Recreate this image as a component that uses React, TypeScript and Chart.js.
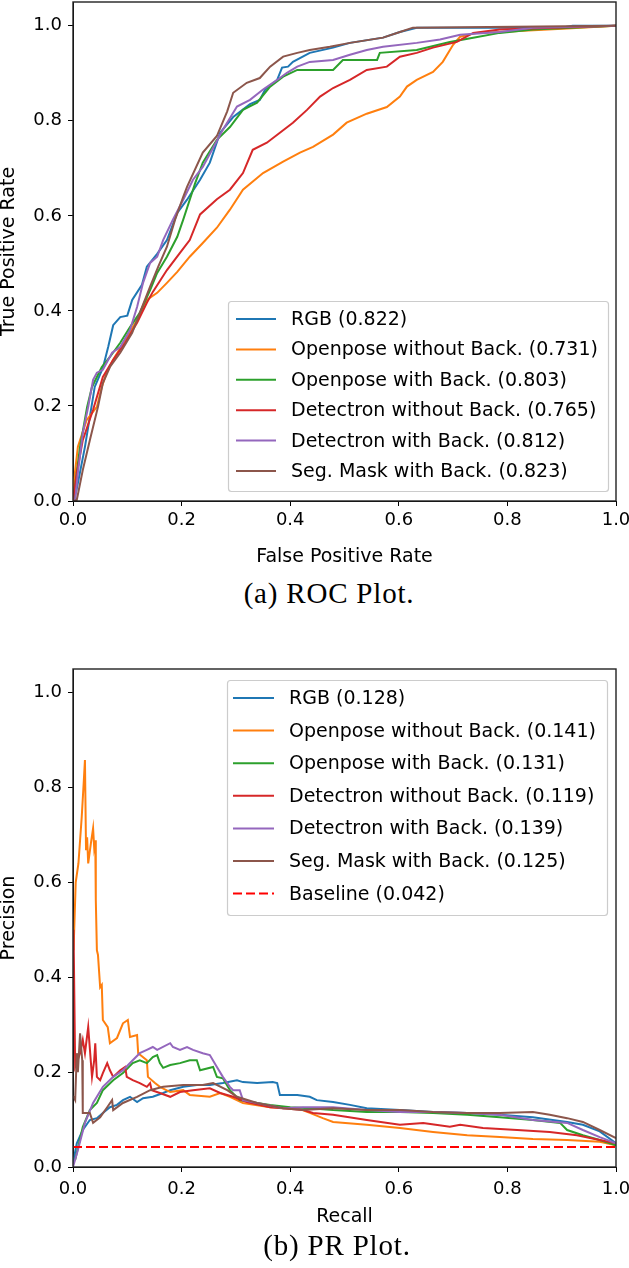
import React, { useEffect, useRef } from "react";
import { Chart, registerables } from "chart.js";

Chart.register(...registerables);

type Pt = [number, number];

// ---------------- data ----------------
const seriesColors = ["#1f77b4", "#ff7f0e", "#2ca02c", "#d62728", "#9467bd", "#8c564b"];
const baselineColor = "#ff0000";

const tickValues = [0, 0.2, 0.4, 0.6, 0.8, 1.0];
const tickLabels = ["0.0", "0.2", "0.4", "0.6", "0.8", "1.0"];

const rocLabels = [
  "RGB (0.822)",
  "Openpose without Back. (0.731)",
  "Openpose with Back. (0.803)",
  "Detectron without Back. (0.765)",
  "Detectron with Back. (0.812)",
  "Seg. Mask with Back. (0.823)",
];

const prLabels = [
  "RGB (0.128)",
  "Openpose without Back. (0.141)",
  "Openpose with Back. (0.131)",
  "Detectron without Back. (0.119)",
  "Detectron with Back. (0.139)",
  "Seg. Mask with Back. (0.125)",
];
const baselineLabel = "Baseline (0.042)";
const baselineValue = 0.042;
const baselineRecall = [0, 1];

// ROC: [false positive rate, true positive rate]
const rocRGB: Pt[] = [
  [0, 0], [0.006, 0.02], [0.022, 0.114], [0.04, 0.24], [0.055, 0.28], [0.065, 0.325], [0.074, 0.37],
  [0.087, 0.387], [0.1, 0.39], [0.109, 0.423], [0.127, 0.455], [0.136, 0.493], [0.155, 0.52],
  [0.173, 0.549], [0.192, 0.606], [0.21, 0.634], [0.234, 0.676], [0.252, 0.712], [0.271, 0.775],
  [0.295, 0.808], [0.326, 0.835], [0.344, 0.844], [0.354, 0.866], [0.376, 0.886], [0.385, 0.912],
  [0.396, 0.914], [0.405, 0.924], [0.436, 0.943], [0.479, 0.954], [0.51, 0.964], [0.571, 0.975],
  [0.602, 0.987], [0.633, 0.996], [0.9, 0.996], [0.92, 1.0], [1, 1],
];
const rocOpenposeNoBack: Pt[] = [
  [0, 0], [0.002, 0.044], [0.009, 0.114], [0.025, 0.17], [0.044, 0.198], [0.053, 0.24], [0.062, 0.27],
  [0.074, 0.297], [0.096, 0.339], [0.118, 0.381], [0.136, 0.423], [0.155, 0.438], [0.173, 0.459],
  [0.192, 0.482], [0.215, 0.514], [0.239, 0.543], [0.265, 0.575], [0.289, 0.613], [0.313, 0.655],
  [0.35, 0.69], [0.387, 0.714], [0.418, 0.733], [0.442, 0.745], [0.479, 0.771], [0.504, 0.796],
  [0.541, 0.815], [0.578, 0.829], [0.602, 0.851], [0.615, 0.872], [0.633, 0.886], [0.663, 0.903],
  [0.681, 0.924], [0.7, 0.96], [0.713, 0.977], [0.744, 0.985], [0.786, 0.987], [0.91, 0.994], [1, 1],
];
const rocOpenposeBack: Pt[] = [
  [0, 0], [0.002, 0.017], [0.013, 0.114], [0.026, 0.198], [0.035, 0.24], [0.044, 0.261], [0.053, 0.282],
  [0.068, 0.303], [0.087, 0.333], [0.105, 0.366], [0.123, 0.396], [0.142, 0.444], [0.155, 0.48],
  [0.173, 0.514], [0.192, 0.556], [0.203, 0.592], [0.215, 0.634], [0.225, 0.669], [0.239, 0.712],
  [0.265, 0.76], [0.289, 0.787], [0.313, 0.823], [0.339, 0.838], [0.363, 0.872], [0.387, 0.893],
  [0.413, 0.907], [0.479, 0.907], [0.497, 0.928], [0.56, 0.928], [0.565, 0.943], [0.633, 0.949],
  [0.694, 0.966], [0.737, 0.975], [0.786, 0.985], [0.847, 0.992], [1, 1],
];
const rocDetectronNoBack: Pt[] = [
  [0, 0], [0.002, 0.017], [0.007, 0.059], [0.018, 0.128], [0.037, 0.192], [0.055, 0.261], [0.074, 0.297],
  [0.096, 0.333], [0.118, 0.375], [0.136, 0.417], [0.147, 0.44], [0.173, 0.486], [0.197, 0.522],
  [0.215, 0.549], [0.234, 0.603], [0.265, 0.635], [0.289, 0.655], [0.313, 0.69], [0.331, 0.739],
  [0.357, 0.754], [0.381, 0.775], [0.405, 0.796], [0.431, 0.823], [0.455, 0.851], [0.479, 0.869],
  [0.51, 0.886], [0.541, 0.907], [0.578, 0.914], [0.602, 0.935], [0.633, 0.943], [0.663, 0.954],
  [0.707, 0.966], [0.737, 0.985], [0.786, 0.992], [1, 1],
];
const rocDetectronBack: Pt[] = [
  [0, 0], [0.004, 0.002], [0.009, 0.059], [0.018, 0.143], [0.028, 0.198], [0.037, 0.255], [0.044, 0.27],
  [0.055, 0.276], [0.072, 0.312], [0.087, 0.324], [0.105, 0.36], [0.118, 0.408], [0.129, 0.459],
  [0.142, 0.501], [0.155, 0.514], [0.166, 0.549], [0.184, 0.592], [0.203, 0.634], [0.221, 0.676],
  [0.239, 0.703], [0.276, 0.781], [0.302, 0.83], [0.326, 0.844], [0.35, 0.866], [0.376, 0.886],
  [0.394, 0.901], [0.413, 0.914], [0.436, 0.924], [0.479, 0.928], [0.51, 0.939], [0.541, 0.949],
  [0.571, 0.956], [0.633, 0.964], [0.676, 0.971], [0.713, 0.981], [0.786, 0.987], [0.847, 0.996], [1, 1],
];
const rocSegMask: Pt[] = [
  [0, 0], [0.007, 0.002], [0.018, 0.065], [0.031, 0.128], [0.046, 0.198], [0.055, 0.248], [0.068, 0.282],
  [0.087, 0.312], [0.109, 0.354], [0.123, 0.396], [0.142, 0.451], [0.157, 0.493], [0.173, 0.535],
  [0.188, 0.592], [0.203, 0.64], [0.21, 0.661], [0.239, 0.733], [0.265, 0.768], [0.284, 0.82],
  [0.295, 0.859], [0.32, 0.88], [0.344, 0.89], [0.363, 0.914], [0.387, 0.935], [0.413, 0.943],
  [0.436, 0.949], [0.473, 0.956], [0.51, 0.964], [0.571, 0.975], [0.602, 0.987], [0.626, 0.996], [1, 1],
];

// PR: [recall, precision]
const prRGB: Pt[] = [
  [0, 0.008], [0.007, 0.05], [0.018, 0.078], [0.031, 0.099], [0.044, 0.103], [0.055, 0.114], [0.068, 0.126],
  [0.081, 0.131], [0.092, 0.141], [0.105, 0.148], [0.118, 0.137], [0.129, 0.145], [0.147, 0.148],
  [0.166, 0.156], [0.179, 0.162], [0.203, 0.169], [0.228, 0.173], [0.252, 0.173], [0.276, 0.177],
  [0.302, 0.183], [0.313, 0.179], [0.339, 0.177], [0.368, 0.179], [0.376, 0.177], [0.381, 0.152],
  [0.413, 0.152], [0.436, 0.148], [0.449, 0.141], [0.479, 0.137], [0.51, 0.131], [0.541, 0.124],
  [0.602, 0.12], [0.663, 0.116], [0.726, 0.114], [0.786, 0.11], [0.847, 0.105], [0.91, 0.095],
  [0.939, 0.089], [0.97, 0.075], [1, 0.05],
];
const prOpenposeNoBack: Pt[] = [
  [0.001, 0.457], [0.005, 0.6], [0.01, 0.64], [0.016, 0.737], [0.02, 0.816], [0.022, 0.858], [0.024, 0.668],
  [0.026, 0.695], [0.028, 0.64], [0.033, 0.683], [0.037, 0.714], [0.039, 0.674], [0.041, 0.689],
  [0.042, 0.563], [0.044, 0.457], [0.046, 0.447], [0.05, 0.379], [0.053, 0.384], [0.055, 0.31],
  [0.064, 0.295], [0.068, 0.261], [0.081, 0.272], [0.092, 0.303], [0.101, 0.31], [0.105, 0.274],
  [0.118, 0.278], [0.12, 0.24], [0.136, 0.225], [0.138, 0.19], [0.151, 0.177], [0.16, 0.169],
  [0.179, 0.158], [0.203, 0.162], [0.215, 0.152], [0.252, 0.148], [0.271, 0.156], [0.289, 0.148],
  [0.313, 0.135], [0.363, 0.126], [0.413, 0.124], [0.436, 0.114], [0.46, 0.103], [0.479, 0.095],
  [0.541, 0.089], [0.602, 0.082], [0.663, 0.074], [0.726, 0.067], [0.786, 0.063], [0.847, 0.059],
  [0.91, 0.057], [0.97, 0.053], [1, 0.046],
];
const prOpenposeBack: Pt[] = [
  [0.004, 0.015], [0.018, 0.084], [0.031, 0.12], [0.044, 0.135], [0.055, 0.162], [0.074, 0.183],
  [0.092, 0.198], [0.11, 0.219], [0.123, 0.225], [0.136, 0.219], [0.147, 0.232], [0.155, 0.236],
  [0.16, 0.219], [0.166, 0.209], [0.179, 0.215], [0.197, 0.219], [0.215, 0.225], [0.228, 0.225],
  [0.234, 0.204], [0.258, 0.211], [0.265, 0.19], [0.276, 0.187], [0.289, 0.162], [0.307, 0.141],
  [0.339, 0.135], [0.363, 0.131], [0.4, 0.126], [0.436, 0.124], [0.479, 0.12], [0.541, 0.116],
  [0.602, 0.116], [0.663, 0.114], [0.726, 0.11], [0.786, 0.105], [0.847, 0.099], [0.897, 0.093],
  [0.91, 0.078], [0.939, 0.067], [0.97, 0.057], [1, 0.046],
];
const prDetectronNoBack: Pt[] = [
  [0.001, 0.5], [0.004, 0.211], [0.013, 0.24], [0.018, 0.268], [0.022, 0.24], [0.028, 0.295], [0.035, 0.19],
  [0.039, 0.225], [0.041, 0.261], [0.044, 0.19], [0.05, 0.183], [0.055, 0.198], [0.063, 0.219],
  [0.068, 0.204], [0.074, 0.19], [0.087, 0.204], [0.096, 0.211], [0.099, 0.19], [0.11, 0.183],
  [0.123, 0.177], [0.136, 0.169], [0.142, 0.177], [0.145, 0.162], [0.16, 0.156], [0.179, 0.148],
  [0.197, 0.158], [0.221, 0.162], [0.252, 0.166], [0.271, 0.156], [0.295, 0.148], [0.32, 0.137],
  [0.363, 0.126], [0.424, 0.12], [0.442, 0.114], [0.479, 0.11], [0.541, 0.099], [0.602, 0.089],
  [0.645, 0.093], [0.694, 0.085], [0.713, 0.089], [0.755, 0.082], [0.818, 0.078], [0.878, 0.074],
  [0.928, 0.067], [0.97, 0.057], [1, 0.05],
];
const prDetectronBack: Pt[] = [
  [0, 0], [0.009, 0.036], [0.022, 0.093], [0.037, 0.135], [0.055, 0.169], [0.074, 0.19], [0.092, 0.204],
  [0.11, 0.225], [0.123, 0.24], [0.136, 0.247], [0.147, 0.253], [0.155, 0.247], [0.179, 0.261],
  [0.184, 0.253], [0.197, 0.247], [0.21, 0.253], [0.221, 0.247], [0.239, 0.24], [0.252, 0.236],
  [0.265, 0.211], [0.276, 0.19], [0.289, 0.169], [0.295, 0.162], [0.307, 0.162], [0.313, 0.141],
  [0.339, 0.135], [0.387, 0.124], [0.424, 0.126], [0.479, 0.126], [0.541, 0.12], [0.602, 0.116],
  [0.663, 0.116], [0.726, 0.114], [0.786, 0.11], [0.847, 0.099], [0.91, 0.093], [0.939, 0.078],
  [0.97, 0.063], [1, 0.05],
];
const prSegMask: Pt[] = [
  [0, 0.15], [0.004, 0.141], [0.007, 0.24], [0.009, 0.2], [0.013, 0.282], [0.017, 0.225], [0.018, 0.114],
  [0.031, 0.114], [0.037, 0.093], [0.05, 0.105], [0.063, 0.126], [0.072, 0.141], [0.074, 0.12],
  [0.092, 0.135], [0.118, 0.148], [0.142, 0.162], [0.166, 0.169], [0.203, 0.173], [0.239, 0.173],
  [0.258, 0.177], [0.284, 0.162], [0.302, 0.148], [0.339, 0.135], [0.387, 0.124], [0.424, 0.12],
  [0.479, 0.124], [0.541, 0.12], [0.602, 0.12], [0.663, 0.116], [0.726, 0.114], [0.786, 0.114],
  [0.847, 0.116], [0.878, 0.11], [0.91, 0.103], [0.939, 0.095], [0.97, 0.078], [1, 0.061],
];

const rocSeries = [rocRGB, rocOpenposeNoBack, rocOpenposeBack, rocDetectronNoBack, rocDetectronBack, rocSegMask];
const prSeries = [prRGB, prOpenposeNoBack, prOpenposeBack, prDetectronNoBack, prDetectronBack, prSegMask];

// ---------------- styling ----------------
const SANS = '"DejaVu Sans", sans-serif';
const W = 629;

interface LegendCfg {
  rightOff: number;
  vAnchor: "top" | "bottom";
  vOff: number;
  width: number;
  height: number;
  firstRow: number;
  rowGap: number;
  lineX0: number;
  lineX1: number;
  textX: number;
}

function framePlugin() {
  return {
    id: "mplFrame",
    afterDatasetsDraw(chart: any) {
      const { ctx, chartArea: a } = chart;
      ctx.save();
      ctx.strokeStyle = "#222";
      ctx.lineWidth = 1.4;
      ctx.strokeRect(a.left, a.top, a.right - a.left, a.bottom - a.top);
      ctx.restore();
    },
  };
}

function legendPlugin(cfg: LegendCfg) {
  return {
    id: "mplLegend",
    afterDraw(chart: any) {
      const { ctx, chartArea: a } = chart;
      const x = a.right - cfg.rightOff - cfg.width;
      const y = cfg.vAnchor === "top" ? a.top + cfg.vOff : a.bottom - cfg.vOff - cfg.height;
      ctx.save();
      ctx.beginPath();
      (ctx as any).roundRect(x + 0.5, y + 0.5, cfg.width, cfg.height, 3);
      ctx.globalAlpha = 0.8;
      ctx.fillStyle = "#ffffff";
      ctx.fill();
      ctx.globalAlpha = 1;
      ctx.strokeStyle = "#cccccc";
      ctx.lineWidth = 1.2;
      ctx.stroke();
      chart.data.datasets.forEach((ds: any, i: number) => {
        const cy = y + cfg.firstRow + i * cfg.rowGap;
        ctx.strokeStyle = ds.borderColor;
        ctx.lineWidth = 2;
        ctx.setLineDash(ds.borderDash || []);
        ctx.beginPath();
        ctx.moveTo(x + cfg.lineX0, cy);
        ctx.lineTo(x + cfg.lineX1, cy);
        ctx.stroke();
        ctx.setLineDash([]);
        ctx.fillStyle = "#000";
        ctx.font = `19px ${SANS}`;
        ctx.textAlign = "left";
        ctx.textBaseline = "middle";
        ctx.fillText(ds.label, x + cfg.textX, cy + 1);
      });
      ctx.restore();
    },
  };
}

interface PlotParams {
  height: number;
  padTop: number;
  xAxisHeight: number;
  xTickPad: number;
  xTitle: string;
  yTitle: string;
  datasets: any[];
  legend: LegendCfg;
}

function makeConfig(p: PlotParams): any {
  const tickFont = { family: SANS, size: 18 };
  const titleFont = { family: SANS, size: 19, lineHeight: 1 };
  const grid = { drawOnChartArea: false, drawTicks: true, tickLength: 5, color: "#000", lineWidth: 1 };
  const border = { display: true, color: "#000", width: 1 };
  return {
    type: "line",
    data: { datasets: p.datasets },
    options: {
      animation: false,
      responsive: false,
      events: [],
      layout: { padding: { top: p.padTop, right: 13, left: 0, bottom: 0 } },
      elements: {
        point: { radius: 0, hoverRadius: 0 },
        line: { borderWidth: 2, tension: 0 },
      },
      plugins: { legend: { display: false }, tooltip: { enabled: false } },
      scales: {
        x: {
          type: "linear",
          min: 0,
          max: 1,
          afterBuildTicks: (s: any) => {
            s.ticks = tickValues.map((v) => ({ value: v }));
          },
          ticks: {
            callback: (_v: any, i: number) => tickLabels[i],
            font: tickFont,
            color: "#000",
            padding: p.xTickPad,
            maxRotation: 0,
            autoSkip: false,
          },
          grid,
          border,
          title: { display: true, text: p.xTitle, font: titleFont, color: "#000", padding: { top: 0, bottom: 8.3 } },
          afterFit: (s: any) => {
            s.height = p.xAxisHeight;
            s.paddingLeft = 0;
            s.paddingRight = 0;
          },
        },
        y: {
          type: "linear",
          min: 0,
          max: 1.05,
          afterBuildTicks: (s: any) => {
            s.ticks = tickValues.map((v) => ({ value: v }));
          },
          ticks: {
            callback: (_v: any, i: number) => tickLabels[i],
            font: tickFont,
            color: "#000",
            padding: 6,
            autoSkip: false,
          },
          grid,
          border,
          title: { display: true, text: p.yTitle, font: titleFont, color: "#000", padding: { top: 0, bottom: 0 } },
          afterFit: (s: any) => {
            s.width = 73;
            s.paddingTop = 0;
            s.paddingBottom = 0;
          },
        },
      },
    },
    plugins: [framePlugin(), legendPlugin(p.legend)],
  };
}

function toXY(pts: Pt[]) {
  return pts.map(([x, y]) => ({ x, y }));
}

function buildRoc(): PlotParams {
  const n = rocSeries.length;
  return {
    height: 575,
    padTop: 2,
    xAxisHeight: 74,
    xTickPad: 3.5,
    xTitle: "False Positive Rate",
    yTitle: "True Positive Rate",
    datasets: rocSeries.map((s, i) => ({
      label: rocLabels[i],
      data: toXY(s),
      borderColor: seriesColors[i],
      backgroundColor: seriesColors[i],
      fill: false,
      order: n - i,
    })),
    legend: {
      rightOff: 8, vAnchor: "bottom", vOff: 10, width: 380, height: 190,
      firstRow: 18, rowGap: 30.4, lineX0: 8, lineX1: 48, textX: 63,
    },
  };
}

function buildPr(): PlotParams {
  const n = prSeries.length + 1;
  const ds: any[] = prSeries.map((s, i) => ({
    label: prLabels[i],
    data: toXY(s),
    borderColor: seriesColors[i],
    backgroundColor: seriesColors[i],
    fill: false,
    order: n - i,
  }));
  ds.push({
    label: baselineLabel,
    data: baselineRecall.map((r) => ({ x: r, y: baselineValue })),
    borderColor: baselineColor,
    backgroundColor: baselineColor,
    borderDash: [9, 4],
    fill: false,
    order: 0,
  });
  return {
    height: 595,
    padTop: 29,
    xAxisHeight: 68,
    xTickPad: 6.5,
    xTitle: "Recall",
    yTitle: "Precision",
    datasets: ds,
    legend: {
      rightOff: 9, vAnchor: "top", vOff: 11, width: 380, height: 235,
      firstRow: 18, rowGap: 32.6, lineX0: 6, lineX1: 47, textX: 62,
    },
  };
}

function PlotCanvas({ top, params }: { top: number; params: PlotParams }) {
  const ref = useRef<HTMLCanvasElement | null>(null);
  useEffect(() => {
    if (!ref.current) return;
    const chart = new Chart(ref.current, makeConfig(params));
    return () => chart.destroy();
  }, []);
  return (
    <canvas
      ref={ref}
      width={W}
      height={params.height}
      style={{ position: "absolute", left: 0, top, width: W, height: params.height, display: "block" }}
    />
  );
}

const captionStyle: React.CSSProperties = {
  position: "absolute",
  transform: "translateX(-50%)",
  whiteSpace: "nowrap",
  fontFamily: '"Liberation Serif", serif',
  fontSize: 29,
  lineHeight: "29px",
  letterSpacing: "0.8px",
  color: "#000",
};

export default function App() {
  const roc = buildRoc();
  const pr = buildPr();
  return (
    <div style={{ position: "absolute", left: 0, top: 0, width: W, height: 1268, background: "#fff", overflow: "hidden" }}>
      <PlotCanvas top={0} params={roc} />
      <div style={{ ...captionStyle, left: 329, top: 579 }}>(a) ROC Plot.</div>
      <PlotCanvas top={640} params={pr} />
      <div style={{ ...captionStyle, left: 337, top: 1231 }}>(b) PR Plot.</div>
    </div>
  );
}
